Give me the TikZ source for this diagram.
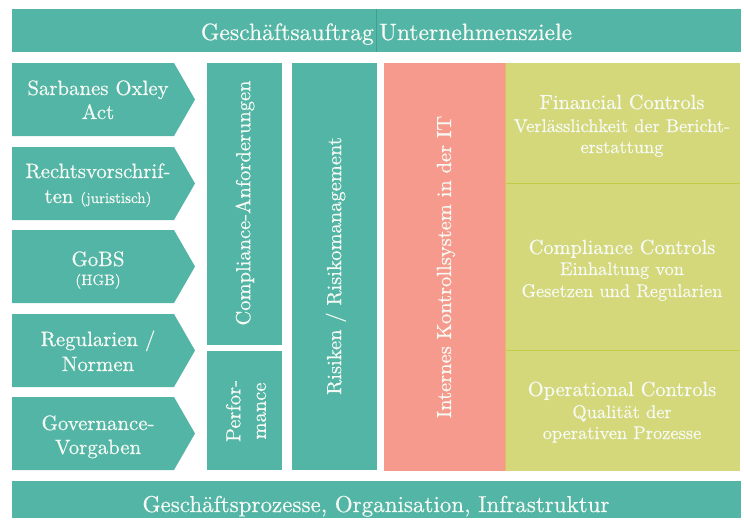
\documentclass[tikz,border=0pt]{standalone}
\usepackage{fontspec}
\setmainfont{lmroman10-regular.otf}[FakeBold=0.5]
\begin{document}
\begin{tikzpicture}[x=1pt,y=-1pt,
  lbl/.style={text=ink, align=center, inner sep=0pt},
  line/.style={lbl, anchor=base},
  huge/.style={font=\fontsize{23.6}{28}\selectfont},
  mid/.style={font=\fontsize{20.8}{25}\selectfont},
  head/.style={font=\fontsize{20.4}{25}\selectfont},
  sub/.style={font=\fontsize{18.4}{22}\selectfont},
  small/.style={font=\fontsize{15}{18}\selectfont},
  vert/.style={lbl, rotate=90, font=\fontsize{20.5}{25.5}\selectfont}]
\definecolor{tealbox}{HTML}{52B5A5}
\definecolor{tealline}{HTML}{3FA08F}
\definecolor{pinkbox}{HTML}{F59A8C}
\definecolor{greenbox}{HTML}{D4D87B}
\definecolor{greenline}{HTML}{C4CB45}
\definecolor{seam}{HTML}{E8B86A}
\definecolor{ink}{HTML}{F6FAF4}
\useasboundingbox (0,0) rectangle (744,520);

% top and bottom bars
\fill[tealbox] (12,9) rectangle (741,52);
\draw[tealline, line width=1pt] (376,9) -- (376,52);
\node[line, huge, anchor=base east] (auftrag) at (374,40) {Geschäftsauftrag};
\node[line, huge, anchor=base west] (ziele) at (379,40) {Unternehmensziele};
\fill[tealbox] (12,481) rectangle (741,518);
\node[line, huge, font=\fontsize{23}{28}\selectfont] (basis) at (376,512) {Geschäftsprozesse, Organisation, Infrastruktur};

% chevrons on the left
\foreach \t/\b in {63/136,147/220,230/303,314/387,397/470}
  \fill[tealbox] (12,\t) -- (174,\t) -- (195,{(\t+\b)/2}) -- (174,\b) -- (12,\b) -- cycle;
\node[line, mid] (sox1) at (98,95) {Sarbanes Oxley};
\node[line, mid] (sox2) at (98,119) {Act};
\node[line, mid] (recht1) at (98,178) {Rechtsvorschrif-};
\node[line, mid] (recht2) at (98,203) {ten {\fontsize{15}{18}\selectfont(juristisch)}};
\node[line, mid] (gobs1) at (98,266) {GoBS};
\node[line, small] (gobs2) at (98,285) {(HGB)};
\node[line, mid] (regul1) at (98,346) {Regularien /};
\node[line, mid] (regul2) at (98,371) {Normen};
\node[line, mid] (gov1) at (98,430) {Governance-};
\node[line, mid] (gov2) at (98,454) {Vorgaben};

% vertical columns
\fill[tealbox] (207,63) rectangle (282,345);
\node[vert] (compl) at (245,203) {Compliance-Anforderungen};
\fill[tealbox] (207,351) rectangle (282,470);
\node[vert] (perf) at (246,411) {Perfor-\\mance};
\fill[tealbox] (292,63) rectangle (377,470);
\node[vert] (risk) at (336,266) {Risiken / Risikomanagement};
\fill[pinkbox] (384,63) rectangle (505,471);
\node[vert] (iks) at (446,267) {Internes Kontrollsystem in der IT};

% control categories
\fill[greenbox] (505,63) rectangle (740,471);
\draw[greenline, line width=1pt] (505,183) -- (740,183);
\draw[greenline, line width=1pt] (505,350) -- (740,350);
\draw[seam, line width=0.6pt] (505,63) -- (505,471);
\node[line, head] (fin) at (622,109) {Financial Controls};
\node[line, sub] (fin1) at (622,132) {Verlässlichkeit der Bericht-};
\node[line, sub] (fin2) at (622,153) {erstattung};
\node[line, head] (cc) at (622,254) {Compliance Controls};
\node[line, sub] (cc1) at (622,275) {Einhaltung von};
\node[line, sub] (cc2) at (622,297) {Gesetzen und Regularien};
\node[line, head] (oc) at (622,396) {Operational Controls};
\node[line, sub] (oc1) at (622,418) {Qualität der};
\node[line, sub] (oc2) at (622,439) {operativen Prozesse};
\end{tikzpicture}
\end{document}
